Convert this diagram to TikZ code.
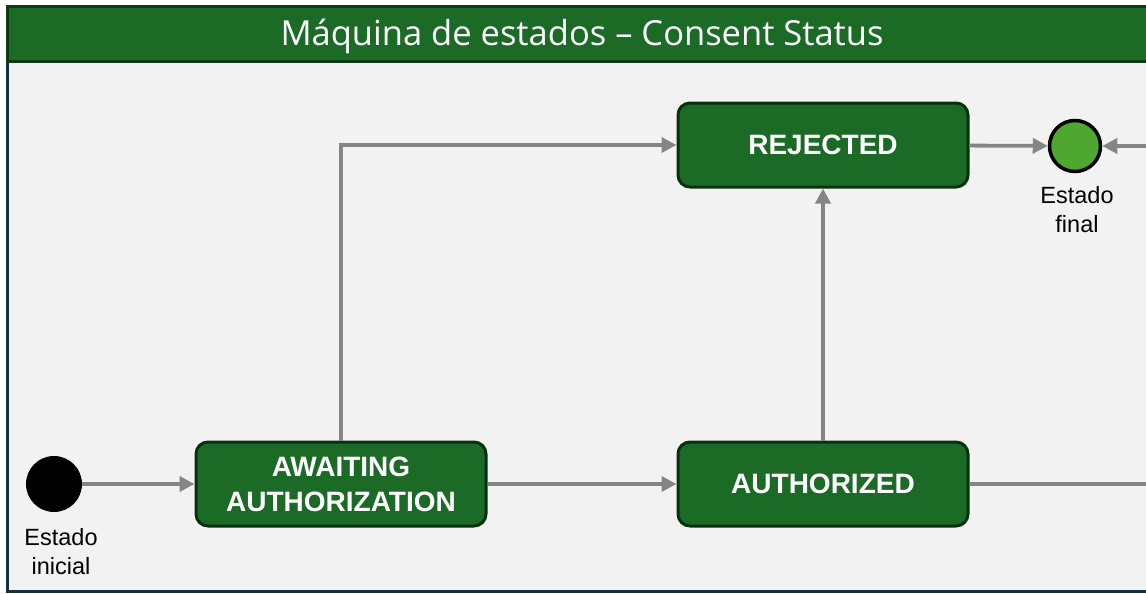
\documentclass[tikz,border=0pt]{standalone}
\usepackage{fontspec}
\setmainfont{Liberation Sans}
\newfontfamily\titlefont{Open Sans}
\usetikzlibrary{arrows.meta,positioning}
\definecolor{bgbody}{HTML}{F2F2F2}
\definecolor{frameblue}{HTML}{12303F}
\definecolor{titlegreen}{HTML}{1B6B26}
\definecolor{titleedge}{HTML}{0E3A13}
\definecolor{boxgreen}{HTML}{1B6B26}
\definecolor{boxedge}{HTML}{093010}
\definecolor{arrowgray}{HTML}{858585}
\definecolor{finalgreen}{HTML}{4EA72E}
\tikzset{
  statebox/.style={draw=boxedge, fill=boxgreen, line width=3pt, rounded corners=12pt,
    minimum width=290pt, minimum height=84pt, inner sep=0pt, align=center,
    text=white, font=\fontsize{28}{35}\selectfont\bfseries},
  arr/.style={draw=arrowgray, line width=3.8pt, -{Triangle[length=15pt,width=15pt]}},
  caption/.style={align=center, font=\fontsize{23.5}{29}\selectfont, text=black, inner sep=0pt},
}
\begin{document}
\begin{tikzpicture}[x=1pt,y=-1pt]
\useasboundingbox (0,0) rectangle (1146,594);
\fill[white] (0,0) rectangle (1146,594);
% frame
\draw[fill=bgbody, draw=frameblue, line width=3pt] (7,7) rectangle (1160,591);
\draw[fill=titlegreen, draw=titleedge, line width=3pt] (7,7) rectangle (1160,62);
\node[text=white, font=\titlefont\fontsize{34.5}{40}\selectfont, inner sep=0pt] (title) at (582,36) {Máquina de estados – Consent Status};
% states
\node[circle, fill=black, minimum size=56pt, inner sep=0pt] (init) at (54,484) {};
\node[caption] (initlbl) at (61,552) {Estado\\inicial};
\node[statebox] (await) at (341,484) {AWAITING\\AUTHORIZATION};
\node[statebox] (auth) at (823,484) {AUTHORIZED};
\node[statebox] (rej) at (823,145) {REJECTED};
\node[circle, fill=finalgreen, draw=black, line width=3.5pt, minimum size=51pt, inner sep=0pt] (fin) at (1075,146) {};
\node[caption] (finlbl) at (1077,210) {Estado\\final};
\coordinate (loop) at (1175,484);
% transitions
\draw[arr] (init) -- (await);
\draw[arr] (await) -- (auth);
\draw[arr] (await.north) -- (await.north |- rej.west) -- (rej.west);
\draw[arr] (auth) -- (rej);
\draw[arr] (rej) -- (fin);
\draw[arr] (auth.east) -- (loop) |- (fin.east);
\end{tikzpicture}
\end{document}
